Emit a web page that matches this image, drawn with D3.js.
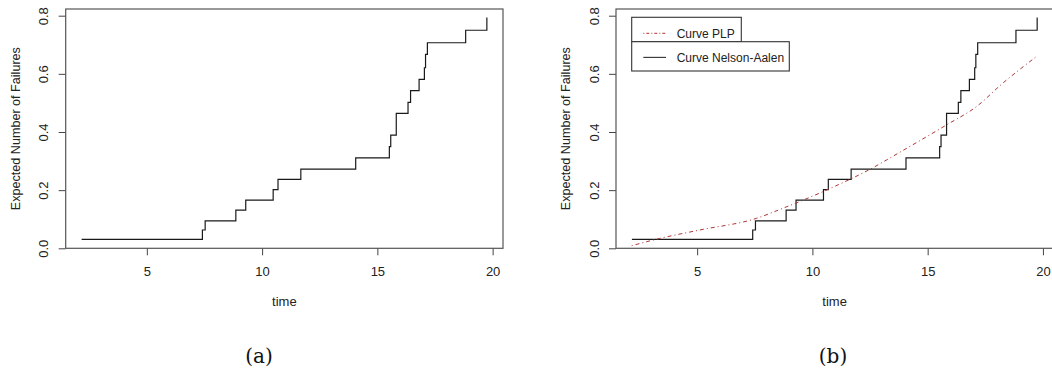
<!DOCTYPE html>
<html>
<head>
<meta charset="utf-8">
<script src="https://cdn.jsdelivr.net/npm/d3@7"></script>
<style>
  body { margin: 0; background: #fff; }
  text { font-family: "Liberation Sans", Arial, sans-serif; fill: #222; }
  .caption { font-family: "DejaVu Serif", serif; font-size: 20px; fill: #111; }
</style>
</head>
<body>
<div id="chart"></div>
<script>
    // Nelson-Aalen step estimate (event times and cumulative values)
    const naTime  = [2.17, 7.41, 7.53, 8.86, 9.29, 10.48, 10.69, 11.68, 14.06, 15.52, 15.58, 15.82, 16.33, 16.44, 16.81, 17.04, 17.09, 17.17, 18.83, 19.75];
    const naValue = [0.031, 0.063, 0.094, 0.131, 0.166, 0.202, 0.237, 0.272, 0.311, 0.350, 0.389, 0.464, 0.502, 0.542, 0.581, 0.621, 0.667, 0.707, 0.750, 0.794];

    // PLP curve
    const plpTime  = [2.16, 3.38, 5.12, 7.57, 8.73, 10.46, 12.85, 13.35, 15.81, 17.11, 18.26, 19.71];
    const plpValue = [0.009, 0.034, 0.063, 0.103, 0.138, 0.195, 0.287, 0.310, 0.424, 0.487, 0.568, 0.659];

    const xTicks = [5, 10, 15, 20];
    const yTicks = [0, 0.2, 0.4, 0.6, 0.8];
    const legendLabels = ["Curve PLP", "Curve Nelson-Aalen"];
    const captions = ["(a)", "(b)"];

    const width = 1052, height = 374;
    const plotTop = 9, plotBottom = 248.3, plotW = 437.3;
    const panels = [{left: 65.7, cap: 259}, {left: 616, cap: 833}];

    const svg = d3.select("#chart")
        .append("svg")
        .attr("width", width)
        .attr("height", height);

    svg.append("rect").attr("width", width).attr("height", height).attr("fill", "#fff");

    const y = d3.scaleLinear()
        .domain([0, 0.823])
        .range([plotBottom, plotTop]);

    const naPoints = naTime.map((t, i) => [t, naValue[i]]);
    const plpPoints = plpTime.map((t, i) => [t, plpValue[i]]);

    panels.forEach((p, idx) => {
        const x = d3.scaleLinear()
            .domain([1.48, 20.45])
            .range([p.left, p.left + plotW]);

        const g = svg.append("g");

        // x axis
        const xa = g.append("g")
            .attr("transform", "translate(0," + plotBottom + ")")
            .call(d3.axisBottom(x).tickValues(xTicks).tickSize(7).tickPadding(11.5).tickFormat(d3.format("d")));
        xa.select(".domain").remove();
        xa.selectAll("line").attr("stroke", "#444");
        xa.selectAll("text").attr("font-size", 13).attr("fill", "#222")
            .style("font-family", "'Liberation Sans', Arial, sans-serif");

        // y axis with rotated labels
        const ya = g.append("g")
            .attr("transform", "translate(" + p.left + ",0)")
            .call(d3.axisLeft(y).tickValues(yTicks).tickSize(7).tickFormat(d3.format(".1f")));
        ya.select(".domain").remove();
        ya.selectAll("line").attr("stroke", "#444");
        ya.selectAll("text")
            .attr("transform", "rotate(-90)")
            .attr("x", 0)
            .attr("y", -22)
            .attr("dy", "0.35em")
            .attr("text-anchor", "middle")
            .attr("font-size", 13)
            .attr("fill", "#222")
            .style("font-family", "'Liberation Sans', Arial, sans-serif");

        // box
        g.append("rect")
            .attr("x", p.left)
            .attr("y", plotTop)
            .attr("width", plotW)
            .attr("height", plotBottom - plotTop)
            .attr("fill", "none")
            .attr("stroke", "#555")
            .attr("stroke-width", 1.2);

        // axis titles
        g.append("text")
            .attr("x", p.left + plotW / 2)
            .attr("y", 306)
            .attr("text-anchor", "middle")
            .attr("font-size", 13)
            .text("time");

        g.append("text")
            .attr("transform", "translate(" + (p.left - 50.5) + "," + ((plotTop + plotBottom) / 2) + ") rotate(-90)")
            .attr("text-anchor", "middle")
            .attr("dy", "0.35em")
            .attr("font-size", 12.6)
            .text("Expected Number of Failures");

        const clipId = "clip" + idx;
        g.append("clipPath").attr("id", clipId)
            .append("rect").attr("x", p.left).attr("y", plotTop).attr("width", plotW).attr("height", plotBottom - plotTop);

        const stepLine = d3.line()
            .x(d => x(d[0]))
            .y(d => y(d[1]))
            .curve(d3.curveStepAfter);

        g.append("path")
            .datum(naPoints)
            .attr("clip-path", "url(#" + clipId + ")")
            .attr("fill", "none")
            .attr("stroke", "#1a1a1a")
            .attr("stroke-width", 1.2)
            .attr("d", stepLine);

        if (idx === 1) {
            const smooth = d3.line()
                .x(d => x(d[0]))
                .y(d => y(d[1]))
                .curve(d3.curveMonotoneX);

            g.append("path")
                .datum(plpPoints)
                .attr("clip-path", "url(#" + clipId + ")")
                .attr("fill", "none")
                .attr("stroke", "#b03535")
                .attr("stroke-width", 1)
                .attr("stroke-dasharray", "1,3,4,3")
                .attr("d", smooth);

            // legend: two stacked boxes as R draws them
            const lx = p.left + 15.7;
            const boxes = [
                {y: 17.3, w: 109.6, h: 24.4, dash: "1,2,3,2", color: "#b03535"},
                {y: 41.7, w: 157.6, h: 29.3, dash: null, color: "#1a1a1a"}
            ];
            boxes.forEach((b, i) => {
                g.append("rect")
                    .attr("x", lx).attr("y", b.y)
                    .attr("width", b.w).attr("height", b.h)
                    .attr("fill", "#fff")
                    .attr("stroke", "#333")
                    .attr("stroke-width", 1.1);
                const cy = b.y + b.h / 2 + (i === 0 ? 3.8 : 1);
                g.append("line")
                    .attr("x1", lx + 11.6).attr("x2", lx + 34.3)
                    .attr("y1", cy).attr("y2", cy)
                    .attr("stroke", b.color)
                    .attr("stroke-width", 1)
                    .attr("stroke-dasharray", b.dash);
                g.append("text")
                    .attr("x", lx + 45)
                    .attr("y", cy)
                    .attr("dy", "0.35em")
                    .attr("font-size", 12)
                    .text(legendLabels[i]);
            });
        }

        svg.append("text")
            .attr("class", "caption")
            .attr("x", p.cap)
            .attr("y", 363)
            .attr("text-anchor", "middle")
            .text(captions[idx]);
    });
</script>
</body>
</html>
